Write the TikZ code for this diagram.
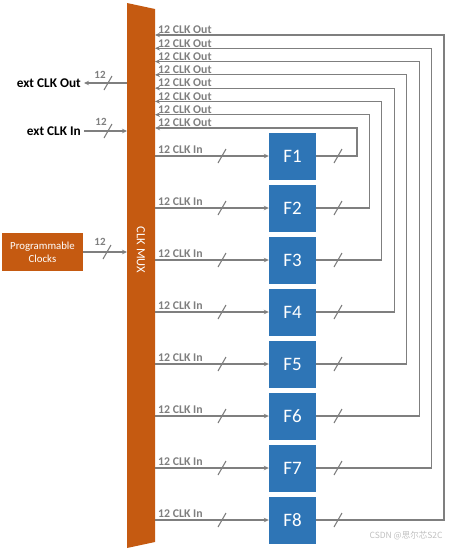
\documentclass[tikz,border=0pt]{standalone}
\usepackage{fontspec}
\setmainfont{Carlito}
\newfontfamily\cjk{Noto Sans CJK SC}
\usetikzlibrary{arrows.meta}
\definecolor{muxorange}{HTML}{C55A11}
\definecolor{fblue}{HTML}{2E75B6}
\definecolor{wiregray}{HTML}{7F7F7F}

\tikzset{
  wire/.style={draw=wiregray, line width=1.1pt},
  arr/.style={wire, -{Stealth[length=5pt,width=4.5pt]}},
  fbox/.style={fill=fblue, minimum width=47pt, minimum height=47pt, inner sep=0pt, text=white, font=\fontsize{19}{19}\selectfont},
  buslbl/.style={text=wiregray, font=\bfseries\fontsize{11.8}{12}\selectfont, inner sep=0pt, anchor=south west},
  widthlbl/.style={text=wiregray, font=\bfseries\fontsize{11}{12}\selectfont, inner sep=0pt},
  extlbl/.style={font=\bfseries\fontsize{13.3}{14}\selectfont, inner sep=0pt, anchor=east},
  busmark/.pic={\draw[wire] (-4,7) -- (4,-7);}
}

\begin{document}
\begin{tikzpicture}[x=1pt,y=-1pt]
  \useasboundingbox (0,0) rectangle (450,549);
  % clock mux
  \fill[muxorange] (127,3) -- (155,9) -- (155,542) -- (127,548) -- cycle;
  \node[rotate=-90, text=white, font=\fontsize{12.5}{13}\selectfont] (mux) at (141,250) {CLK MUX};

  % F blocks, inputs and feedback outputs
  \foreach \k in {1,...,8}{
    \pgfmathsetmacro\fy{156+(\k-1)*52}
    \pgfmathsetmacro\oy{128-(\k-1)*93/7}
    \pgfmathsetmacro\cx{357+(\k-1)*87/7}
    \node[fbox] (f\k) at (292.5,\fy) {F\k};
    \coordinate (mi\k) at (155,\fy);
    \coordinate (mo\k) at (155,\oy);
    \coordinate (c\k) at (\cx,\fy);
    \draw[arr] (mi\k) -- (f\k.west);
    \node[buslbl] (in\k) at (158,\fy-2) {12 CLK In};
    \pic at (222,\fy) {busmark};
    \draw[arr] (f\k.east) -- (c\k) -- (c\k |- mo\k) -- (mo\k);
    \pic at (338,\fy) {busmark};
    \node[buslbl] (out\k) at (158,\oy-1) {12 CLK Out};
  }

  % external clocks
  \coordinate (eo) at (127,83);
  \coordinate (ei) at (127,131);
  \node[extlbl] (extout) at (81,83) {ext CLK Out};
  \node[extlbl] (extin) at (81,131) {ext CLK In};
  \draw[arr] (eo) -- ([xshift=3pt]extout.east);
  \draw[arr] ([xshift=3pt]extin.east) -- (ei);
  \node[widthlbl] (wo) at (100,75) {12};
  \node[widthlbl] (wi) at (101,122) {12};
  \pic at (108,83) {busmark};
  \pic at (108,131) {busmark};

  % programmable clocks
  \node[fill=muxorange, text=white, minimum width=81pt, minimum height=38pt, align=center,
        font=\fontsize{10.8}{13}\selectfont] (prog) at (42.5,252) {Programmable\\Clocks};
  \coordinate (mp) at (127,252);
  \draw[arr] (prog.east) -- (mp);
  \node[widthlbl] (wp) at (100,242) {12};
  \pic at (107,252) {busmark};

  \node[text=black!25, font=\cjk\fontsize{8.5}{9}\selectfont, anchor=east] (wm) at (446,536) {CSDN @思尔芯S2C};
\end{tikzpicture}
\end{document}
